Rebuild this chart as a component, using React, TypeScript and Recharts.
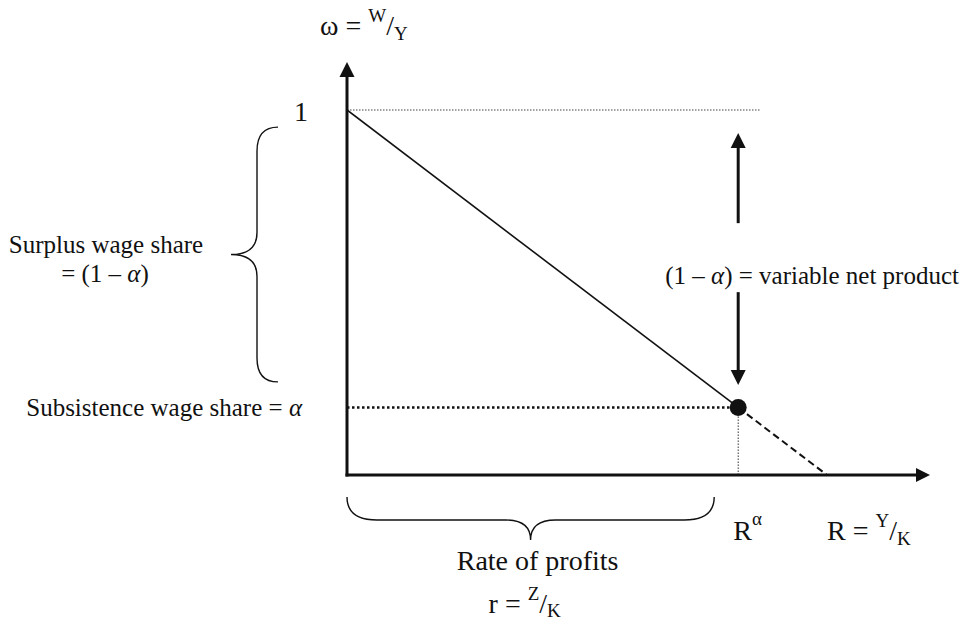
import React from 'react';
import { ComposedChart, Line, XAxis, YAxis, ReferenceLine, ReferenceDot } from 'recharts';

// ---- data (diagram values, in axis units) ----
const ALPHA = 0.185; // subsistence wage share
const R_ALPHA = 0.815; // rate of profit where wage share = alpha
const R_MAX = 1; // R = Y/K (intercept)
const wageCurve = [
  { r: 0, w: 1 },
  { r: R_ALPHA, w: ALPHA },
];
const wageCurveExt = [
  { r: R_ALPHA, w: ALPHA },
  { r: R_MAX, w: 0 },
];
const X_MAX = 1.2146;
const Y_MAX = 1.1315;
const TOP_GUIDE_END = 0.862;
const UP_ARROW = [0.69, 0.937];
const DOWN_ARROW = [0.501, 0.2466];
const LEFT_BRACE = [0.953, 0.255];
const BOTTOM_BRACE_END = 0.765;

const INK = '#111';
const FONT = '"Liberation Serif", "Times New Roman", serif';

const arrowShape = (head: number, half: number, width: number, cap = 'butt') => (p: any) => {
  const { x1, y1, x2, y2 } = p;
  const dx = x2 - x1;
  const dy = y2 - y1;
  const len = Math.hypot(dx, dy) || 1;
  const ux = dx / len;
  const uy = dy / len;
  const bx = x2 - ux * head;
  const by = y2 - uy * head;
  const nx = -uy * half;
  const ny = ux * half;
  return (
    <g>
      <line x1={x1} y1={y1} x2={bx + ux} y2={by + uy} stroke={INK} strokeWidth={width} strokeLinecap={cap as any} />
      <polygon points={`${x2},${y2} ${bx + nx},${by + ny} ${bx - nx},${by - ny}`} fill={INK} />
    </g>
  );
};

const at = (render: (cx: number, cy: number) => React.ReactNode) => (p: any) => <g>{render(p.cx, p.cy)}</g>;

const leftBrace = (p: any) => {
  const { x1, y1, y2 } = p;
  const xe = x1 - 69;
  const xs = x1 - 90;
  const xt = x1 - 116;
  const ym = (y1 + y2) / 2;
  const d = `M ${xe} ${y1} Q ${xs} ${y1} ${xs} ${y1 + 24} L ${xs} ${ym - 22} Q ${xs} ${ym} ${xt} ${ym} Q ${xs} ${ym} ${xs} ${ym + 22} L ${xs} ${y2 - 24} Q ${xs} ${y2} ${xe} ${y2}`;
  return (
    <g>
      <path d={d} fill="none" stroke={INK} strokeWidth={1.4} />
      <text x={xt - 125} y={ym - 2} textAnchor="middle" fontFamily={FONT} fontSize={25} fill={INK}>
        Surplus wage share
      </text>
      <text x={xt - 126} y={ym + 27} textAnchor="middle" fontFamily={FONT} fontSize={25} fill={INK}>
        {'= (1 – '}
        <tspan fontStyle="italic">α</tspan>
        {')'}
      </text>
    </g>
  );
};

const bottomBrace = (p: any) => {
  const { x1, x2, y1 } = p;
  const ye = y1 + 22;
  const ys = y1 + 45;
  const yt = y1 + 65;
  const xm = (x1 + x2) / 2;
  const d = `M ${x1} ${ye} Q ${x1} ${ys} ${x1 + 30} ${ys} L ${xm - 25} ${ys} Q ${xm} ${ys} ${xm} ${yt} Q ${xm} ${ys} ${xm + 25} ${ys} L ${x2 - 30} ${ys} Q ${x2} ${ys} ${x2} ${ye}`;
  return (
    <g>
      <path d={d} fill="none" stroke={INK} strokeWidth={1.4} />
      <text x={xm + 7} y={y1 + 95} textAnchor="middle" fontFamily={FONT} fontSize={28} fill={INK}>
        Rate of profits
      </text>
      <text x={xm - 42} y={y1 + 138} fontFamily={FONT} fontSize={28} fill={INK}>
        {'r = '}
        <tspan fontSize={19} dy={-13}>Z</tspan>
        <tspan dy={13}>/</tspan>
        <tspan fontSize={19} dy={4}>K</tspan>
      </text>
    </g>
  );
};

export default function App() {
  return (
    <div style={{ position: 'absolute', left: 0, top: 0, background: '#fff' }}>
      <ComposedChart width={979} height={626} margin={{ top: 62, right: 49, bottom: 151, left: 347 }}>
        <XAxis type="number" dataKey="r" domain={[0, X_MAX]} allowDataOverflow hide />
        <YAxis type="number" dataKey="w" domain={[0, Y_MAX]} allowDataOverflow hide />

        {/* guides */}
        <ReferenceLine
          segment={[{ x: 0, y: 1 }, { x: TOP_GUIDE_END, y: 1 }]}
          stroke="#444"
          strokeWidth={1}
          strokeDasharray="1.5 1.5"
          ifOverflow="visible"
        />
        <ReferenceLine
          segment={[{ x: 0, y: ALPHA }, { x: R_ALPHA, y: ALPHA }]}
          stroke={INK}
          strokeWidth={2.5}
          strokeDasharray="2.5 2.5"
          ifOverflow="visible"
        />
        <ReferenceLine
          segment={[{ x: R_ALPHA, y: ALPHA }, { x: R_ALPHA, y: 0 }]}
          stroke="#333"
          strokeWidth={1}
          strokeDasharray="1.5 1.5"
          ifOverflow="visible"
        />

        {/* axes with arrows */}
        <ReferenceLine
          segment={[{ x: 0, y: 0 }, { x: 0, y: Y_MAX }]}
          ifOverflow="visible"
          shape={arrowShape(15, 7.5, 3, 'square')}
        />
        <ReferenceLine
          segment={[{ x: 0, y: 0 }, { x: X_MAX, y: 0 }]}
          ifOverflow="visible"
          shape={arrowShape(14, 7, 3, 'square')}
        />

        {/* vertical arrows */}
        <ReferenceLine
          segment={[{ x: R_ALPHA, y: UP_ARROW[0] }, { x: R_ALPHA, y: UP_ARROW[1] }]}
          ifOverflow="visible"
          shape={arrowShape(15, 7.5, 3)}
        />
        <ReferenceLine
          segment={[{ x: R_ALPHA, y: DOWN_ARROW[0] }, { x: R_ALPHA, y: DOWN_ARROW[1] }]}
          ifOverflow="visible"
          shape={arrowShape(15, 7.5, 3)}
        />

        {/* curve */}
        <Line data={wageCurve} dataKey="w" type="linear" stroke={INK} strokeWidth={1.6} dot={false} activeDot={false} isAnimationActive={false} />
        <Line data={wageCurveExt} dataKey="w" type="linear" stroke={INK} strokeWidth={2} strokeDasharray="7 4" dot={false} activeDot={false} isAnimationActive={false} />
        <ReferenceDot x={R_ALPHA} y={ALPHA} r={8.5} fill={INK} stroke="none" ifOverflow="visible" />

        {/* braces */}
        <ReferenceLine segment={[{ x: 0, y: LEFT_BRACE[0] }, { x: 0, y: LEFT_BRACE[1] }]} ifOverflow="visible" shape={leftBrace} />
        <ReferenceLine segment={[{ x: 0, y: 0 }, { x: BOTTOM_BRACE_END, y: 0 }]} ifOverflow="visible" shape={bottomBrace} />

        {/* labels */}
        <ReferenceDot
          x={0}
          y={Y_MAX}
          r={0}
          ifOverflow="visible"
          shape={at((cx, cy) => (
            <text x={cx - 27} y={cy - 27} fontFamily={FONT} fontSize={28} fill={INK}>
              {'ω = '}
              <tspan fontSize={19} dy={-13}>W</tspan>
              <tspan dy={13}>/</tspan>
              <tspan fontSize={19} dy={5}>Y</tspan>
            </text>
          ))}
        />
        <ReferenceDot
          x={0}
          y={1}
          r={0}
          ifOverflow="visible"
          shape={at((cx, cy) => (
            <text x={cx - 39} y={cy + 11} textAnchor="end" fontFamily={FONT} fontSize={28} fill={INK}>
              1
            </text>
          ))}
        />
        <ReferenceDot
          x={0}
          y={ALPHA}
          r={0}
          ifOverflow="visible"
          shape={at((cx, cy) => (
            <text x={cx - 45} y={cy + 9} textAnchor="end" fontFamily={FONT} fontSize={25} fill={INK}>
              {'Subsistence wage share = '}
              <tspan fontStyle="italic">α</tspan>
            </text>
          ))}
        />
        <ReferenceDot
          x={R_ALPHA}
          y={0.6}
          r={0}
          ifOverflow="visible"
          shape={at((cx, cy) => (
            <text x={cx - 73} y={cy + 28} fontFamily={FONT} fontSize={25} fill={INK}>
              {'(1 – '}
              <tspan fontStyle="italic">α</tspan>
              {') = variable net product'}
            </text>
          ))}
        />
        <ReferenceDot
          x={R_ALPHA}
          y={0}
          r={0}
          ifOverflow="visible"
          shape={at((cx, cy) => (
            <text x={cx - 5} y={cy + 65} fontFamily={FONT} fontSize={28} fill={INK}>
              R
              <tspan fontSize={19} dy={-15}>α</tspan>
            </text>
          ))}
        />
        <ReferenceDot
          x={R_MAX}
          y={0}
          r={0}
          ifOverflow="visible"
          shape={at((cx, cy) => (
            <text x={cx} y={cy + 65} fontFamily={FONT} fontSize={28} fill={INK}>
              {'R = '}
              <tspan fontSize={19} dy={-13}>Y</tspan>
              <tspan dy={13}>/</tspan>
              <tspan fontSize={19} dy={5}>K</tspan>
            </text>
          ))}
        />
      </ComposedChart>
    </div>
  );
}
